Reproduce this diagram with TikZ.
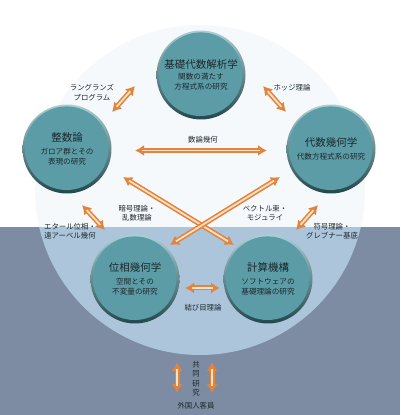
\documentclass[tikz,border=0pt]{standalone}
\usepackage{fontspec}
\setmainfont{Noto Sans CJK JP}
\usetikzlibrary{arrows.meta}

\definecolor{ballfill}{RGB}{92,156,166}
\definecolor{rimlight}{RGB}{170,208,212}
\definecolor{rimdark}{RGB}{34,72,78}
\definecolor{ink}{RGB}{28,40,46}
\definecolor{arrowedge}{RGB}{226,132,62}
\definecolor{arrowcore}{RGB}{252,224,194}
\definecolor{seabg}{RGB}{125,140,162}
\definecolor{pool}{RGB}{172,197,219}
\definecolor{haze}{RGB}{246,249,252}

\newcommand\ballhead{\fontsize{10.5}{13}\selectfont}
\newcommand\balltext{\fontsize{7.6}{10}\selectfont}
\newcommand\notetext{\fontsize{7.4}{9.5}\selectfont}
\newcommand\duallink[2]{\path (#1) edge[link] (#2); \path (#1) edge[linkcore] (#2);}

\begin{document}
\begin{tikzpicture}[x=1pt,y=1pt,
	field/.style={circle, minimum size=89pt, inner sep=0pt, align=center, text=ink,
		font=\balltext, top color=rimlight, bottom color=rimdark,
		path picture={\fill[ballfill] ([shift={(-0.4pt,0.8pt)}]path picture bounding box.center) circle (41.8pt);}},
	link/.style={draw=arrowedge, line width=5pt,
		{Latex[length=9pt,width=11pt]}-{Latex[length=9pt,width=11pt]}},
	linkcore/.style={draw=arrowcore, line width=1.8pt, shorten <=7pt, shorten >=7pt},
	note/.style={font=\notetext, text=ink, align=center, inner sep=0pt}]
	\useasboundingbox (0,0) rectangle (400,415);

	% background
	\fill[white] (0,0) rectangle (400,415);
	\fill[haze] (200,225) circle (165);
	\fill[seabg] (0,0) rectangle (400,187.5);
	\begin{scope}
		\clip (0,0) rectangle (400,187.5);
		\fill[pool] (200,225) circle (165);
	\end{scope}

	\node[field] (alg) at (201,340) {\ballhead 基礎代数解析学\\[1pt]\balltext 関数の満たす\\方程式系の研究};
	\node[field] (num) at (67,266) {\ballhead 整数論\\[3pt]\balltext ガロア群とその\\表現の研究};
	\node[field] (geo) at (331,266) {\ballhead 代数幾何学\\[3pt]\balltext 代数方程式系の研究};
	\node[field] (topo) at (135,136) {\ballhead 位相幾何学\\[3pt]\balltext 空間とその\\不変量の研究};
	\node[field] (comp) at (268,136) {\ballhead 計算機構\\[3pt]\balltext ソフトウェアの\\基礎理論の研究};

	\coordinate (lang1) at (112,303);
	\coordinate (lang2) at (135,329);
	\coordinate (hodge1) at (263,329);
	\coordinate (hodge2) at (286,303);
	\coordinate (arith1) at (135,264.5);
	\coordinate (arith2) at (267,264.5);
	\coordinate (crypt1) at (123,238);
	\coordinate (crypt2) at (234,170);
	\coordinate (vect1) at (280,238);
	\coordinate (vect2) at (170,170);
	\coordinate (etale1) at (82,210);
	\coordinate (etale2) at (105,185);
	\coordinate (code1) at (318,210);
	\coordinate (code2) at (296,185);
	\coordinate (knot1) at (185,127);
	\coordinate (knot2) at (220,127);
	\coordinate (guest1) at (177,53);
	\coordinate (guest2) at (177,22);
	\coordinate (guest3) at (212,53);
	\coordinate (guest4) at (212,22);

	\duallink{lang1}{lang2}
	\duallink{hodge1}{hodge2}
	\duallink{arith1}{arith2}
	\duallink{crypt1}{crypt2}
	\duallink{vect1}{vect2}
	\duallink{etale1}{etale2}
	\duallink{code1}{code2}
	\duallink{knot1}{knot2}
	\duallink{guest1}{guest2}
	\duallink{guest3}{guest4}

	\node[note] (langl) at (92,322.5) {ラングランズ\\プログラム};
	\node[note] (hodgel) at (292,327) {ホッジ理論};
	\node[note] (arithl) at (203,275) {数論幾何};
	\node[note] (cryptl) at (137,202) {暗号理論・\\乱数理論};
	\node[note] (vectl) at (265,202) {ベクトル束・\\モジュライ};
	\node[note] (etalel) at (70,184) {エタール位相・\\遠アーベル幾何};
	\node[note] (codel) at (332,184) {符号理論・\\グレブナー基底};
	\node[note] (knotl) at (203,107) {結び目理論};
	\node[note] (jointl) at (196,36.5) {共\\同\\研\\究};
	\node[note] (guestl) at (196,9) {外国人客員};
\end{tikzpicture}
\end{document}
